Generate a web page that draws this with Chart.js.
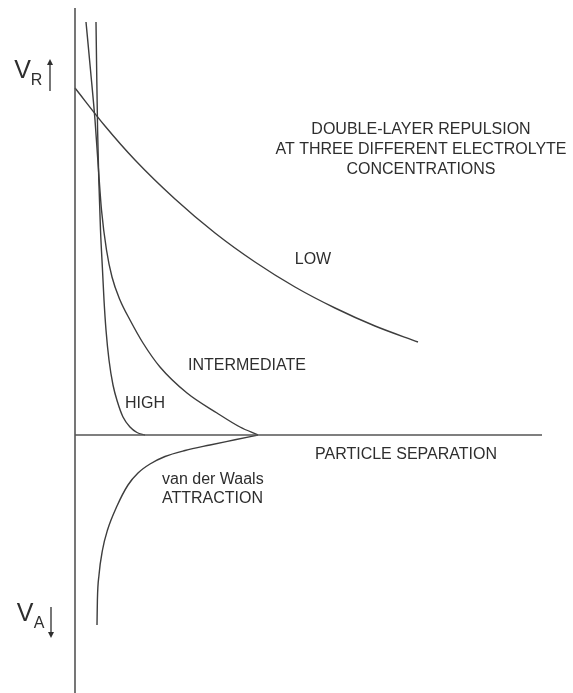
<!DOCTYPE html>
<html>
<head>
<meta charset="utf-8">
<title>Double-layer repulsion</title>
<script src="https://cdn.jsdelivr.net/npm/chart.js@4/dist/chart.umd.min.js"></script>
<style>
    body { margin: 0; background: #fff; }
    #chartBox { width: 573px; height: 693px; }
</style>
</head>
<body>
<div id="chartBox"><canvas id="potentialChart" width="573" height="693"></canvas></div>
<script>
// separation (x) and potential (y) in arbitrary units, origin at the axes crossing
var highX = [2.1, 2.18, 2.26, 2.38, 2.55, 2.75, 2.9, 3.1, 3.4, 3.8, 4.25, 4.8, 5.5, 6.2, 7.0];
var highY = [41.3, 35.5, 30.5, 25.5, 20.5, 16.5, 13.5, 10.5, 7.5, 5.0, 3.3, 1.8, 0.8, 0.25, 0];

var intermediateX = [1.1, 1.55, 2.0, 2.35, 2.65, 3.15, 3.7, 4.5, 5.5, 6.8, 8.5, 11.2, 14.2, 16.5, 18.3];
var intermediateY = [41.3, 36.5, 31.5, 26.5, 22.5, 18.5, 15.8, 13.5, 11.5, 9.2, 6.8, 4.2, 2.2, 0.8, 0];

var lowX = [0, 3, 6, 10, 14, 18, 22, 26, 30, 34.3];
var lowY = [34.7, 30.9, 27.5, 23.6, 20.2, 17.3, 14.8, 12.7, 10.9, 9.3];

var vdwX = [2.2, 2.24, 2.4, 2.75, 3.25, 4.2, 5.3, 6.3, 7.5, 9.0, 11.0, 13.5, 16.0, 18.3];
var vdwY = [-19.0, -16.5, -14.0, -11.5, -9.5, -7.1, -5.0, -3.8, -2.9, -2.15, -1.55, -1.0, -0.48, 0];

var axisEndX = 46.7;
var axisTopY = 42.7;
var axisBottomY = -26;

var textLabels = [
    { text: "DOUBLE-LAYER REPULSION", x: 34.6, y: 30.5, align: "center" },
    { text: "AT THREE DIFFERENT ELECTROLYTE", x: 34.6, y: 28.5, align: "center" },
    { text: "CONCENTRATIONS", x: 34.6, y: 26.5, align: "center" },
    { text: "LOW", x: 23.8, y: 17.5, align: "center" },
    { text: "INTERMEDIATE", x: 17.2, y: 6.9, align: "center" },
    { text: "HIGH", x: 7.0, y: 3.1, align: "center" },
    { text: "PARTICLE SEPARATION", x: 33.1, y: -2.0, align: "center" },
    { text: "van der Waals", x: 8.7, y: -4.5, align: "left" },
    { text: "ATTRACTION", x: 8.7, y: -6.4, align: "left" }
];

var axisSymbols = [
    { main: "V", sub: "R", x: -5.25, y: 36.4, arrowX: -2.5, arrowFrom: 34.4, arrowTo: 37.6 },
    { main: "V", sub: "A", x: -5.0, y: -17.9, arrowX: -2.4, arrowFrom: -17.2, arrowTo: -20.3 }
];

function toPoints(xs, ys) {
    return xs.map(function (x, i) { return { x: x, y: ys[i] }; });
}

function curve(xs, ys) {
    return {
        data: toPoints(xs, ys),
        borderColor: '#3d3d3d',
        borderWidth: 1.4,
        pointRadius: 0,
        cubicInterpolationMode: 'monotone',
        fill: false
    };
}

function axisLine(points) {
    return {
        data: points,
        borderColor: '#555',
        borderWidth: 1.6,
        pointRadius: 0,
        tension: 0,
        fill: false
    };
}

var labelPlugin = {
    id: 'labelPlugin',
    afterDatasetsDraw: function (chart) {
        var ctx = chart.ctx;
        var sx = chart.scales.x, sy = chart.scales.y;
        ctx.save();
        ctx.fillStyle = '#2e2e2e';
        ctx.textBaseline = 'middle';
        ctx.font = '16px "Liberation Sans", Arial, sans-serif';
        textLabels.forEach(function (lbl) {
            ctx.textAlign = lbl.align;
            ctx.fillText(lbl.text, sx.getPixelForValue(lbl.x), sy.getPixelForValue(lbl.y));
        });

        axisSymbols.forEach(function (s) {
            var px = sx.getPixelForValue(s.x), py = sy.getPixelForValue(s.y);
            ctx.textAlign = 'center';
            ctx.font = '25px "Liberation Sans", Arial, sans-serif';
            ctx.fillText(s.main, px, py);
            ctx.font = '16px "Liberation Sans", Arial, sans-serif';
            ctx.fillText(s.sub, px + 14, py + 10);

            var ax = sx.getPixelForValue(s.arrowX);
            var y0 = sy.getPixelForValue(s.arrowFrom), y1 = sy.getPixelForValue(s.arrowTo);
            var dir = y1 < y0 ? -1 : 1;
            ctx.strokeStyle = '#2e2e2e';
            ctx.lineWidth = 1.3;
            ctx.beginPath();
            ctx.moveTo(ax, y0);
            ctx.lineTo(ax, y1 - dir * 4);
            ctx.stroke();
            ctx.beginPath();
            ctx.moveTo(ax, y1);
            ctx.lineTo(ax - 3, y1 - dir * 6);
            ctx.lineTo(ax + 3, y1 - dir * 6);
            ctx.closePath();
            ctx.fill();
        });
        ctx.restore();
    }
};

var ctx = document.getElementById('potentialChart');
var potentialChart = new Chart(ctx, {
    type: 'line',
    data: {
        datasets: [
            axisLine([{ x: 0, y: axisTopY }, { x: 0, y: axisBottomY }]),
            axisLine([{ x: 0, y: 0 }, { x: axisEndX, y: 0 }]),
            curve(lowX, lowY),
            curve(intermediateX, intermediateY),
            curve(highX, highY),
            curve(vdwX, vdwY)
        ]
    },
    options: {
        responsive: false,
        animation: false,
        layout: { padding: 0 },
        plugins: {
            legend: { display: false },
            tooltip: { enabled: false }
        },
        scales: {
            x: { type: 'linear', display: false, min: -7.5, max: 49.8 },
            y: { type: 'linear', display: false, min: -25.8, max: 43.5 }
        }
    },
    plugins: [labelPlugin]
});
</script>
</body>
</html>
